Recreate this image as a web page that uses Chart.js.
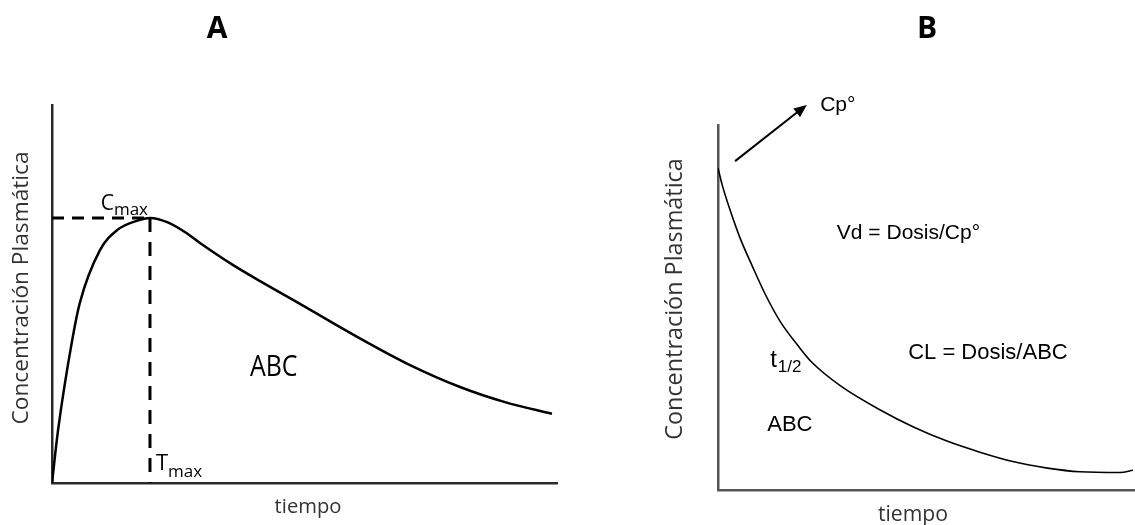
<!DOCTYPE html>
<html><head><meta charset="utf-8">
<script src="https://cdn.jsdelivr.net/npm/chart.js@4/dist/chart.umd.min.js"></script>
<style>
html,body{margin:0;padding:0;background:#fff;}
#wrap{position:relative;width:1135px;height:525px;overflow:hidden;background:#fff;}
#ca{position:absolute;left:0;top:0;}
#cb{position:absolute;left:580px;top:0;}
</style></head><body>
<div id="wrap"><canvas id="ca" width="580" height="525"></canvas><canvas id="cb" width="555" height="525"></canvas></div>
<script>
// ---- data ----
const timeA = [0, 0.12, 0.40, 0.55, 0.95, 1.29, 1.74, 1.94, 2.28, 2.63, 2.93, 3.58, 4.12, 4.91, 6.16, 7.09, 8.08, 8.97, 9.90];
const concA = [0, 14.0, 37.8, 47.6, 61.6, 66.9, 69.6, 70.1, 69.0, 66.4, 63.5, 57.7, 53.4, 47.4, 37.8, 31.2, 25.4, 21.4, 18.3];
const timeB = [0, 0.10, 0.29, 0.53, 0.82, 1.13, 1.49, 1.97, 2.25, 2.93, 3.88, 4.70, 5.49, 6.30, 7.07, 7.90, 8.68, 9.64, 9.95];
const concB = [88.2, 83.6, 76.7, 69.0, 61.4, 53.7, 46.2, 38.8, 35.0, 28.6, 22.0, 17.2, 13.4, 10.3, 7.8, 6.0, 5.0, 4.8, 5.4];
const panelTitles = ['A', 'B'];
const yTitle = 'Concentración Plasmática';
const xTitle = 'tiempo';

const SANS = '"Open Sans", "DejaVu Sans", sans-serif';
const ARIAL = '"Liberation Sans", Arial, sans-serif';

function fitSize(ctx, text, family, weight, target) {
  ctx.font = weight + ' 100px ' + family;
  return 100 * target / ctx.measureText(text).width;
}
function toPts(xs, ys) { return xs.map((x, i) => ({x: x, y: ys[i]})); }

const peakIdx = concA.indexOf(Math.max(...concA));
const peak = {x: timeA[peakIdx], y: concA[peakIdx]};

function baseScales(color) {
  const ax = {
    type: 'linear', min: 0, max: 10,
    grid: {display: false, drawTicks: false},
    border: {display: true, color: color, width: 2.5},
    ticks: {display: false},
    title: {display: false}
  };
  return {
    x: Object.assign({}, ax),
    y: Object.assign({}, ax, {max: 100})
  };
}

// ---- Chart A ----
const annotA = {
  id: 'annotA',
  afterDraw(chart) {
    const ctx = chart.ctx, xs = chart.scales.x, ys = chart.scales.y, ca = chart.chartArea;
    ctx.save();
    ctx.fillStyle = '#000';
    ctx.textBaseline = 'alphabetic';
    ctx.font = 'bold 30px ' + SANS; ctx.textAlign = 'center';
    ctx.fillText(panelTitles[0], 217, 38);
    ctx.fillStyle = '#333';
    let s = fitSize(ctx, yTitle, SANS, 'normal', 273);
    ctx.font = s.toFixed(1) + 'px ' + SANS;
    ctx.save(); ctx.translate(22, 288); ctx.rotate(-Math.PI / 2);
    ctx.textBaseline = 'middle'; ctx.fillText(yTitle, 0, 0); ctx.restore();
    s = fitSize(ctx, xTitle, SANS, 'normal', 67);
    ctx.font = s.toFixed(1) + 'px ' + SANS; ctx.textBaseline = 'middle';
    ctx.fillText(xTitle, 308, 507);
    // Cmax / Tmax
    const px = xs.getPixelForValue(peak.x), py = ys.getPixelForValue(peak.y);
    ctx.fillStyle = '#000'; ctx.textBaseline = 'alphabetic'; ctx.textAlign = 'left';
    ctx.font = '17px ' + SANS;
    const wMax = ctx.measureText('max').width;
    ctx.font = '21px ' + SANS;
    const wC = ctx.measureText('C').width;
    const cx = px - 2 - wMax - wC;
    ctx.fillText('C', cx, py - 8);
    ctx.font = '17px ' + SANS; ctx.fillText('max', cx + wC, py - 3);
    ctx.font = '22px ' + SANS; ctx.fillText('T', px + 6, ca.bottom - 13);
    const wT = ctx.measureText('T').width;
    ctx.font = '17px ' + SANS; ctx.fillText('max', px + 6 + wT, ca.bottom - 6);
    // ABC
    ctx.save();
    ctx.translate(xs.getPixelForValue(3.92), ys.getPixelForValue(28.3));
    ctx.scale(0.86, 1);
    ctx.font = '29px ' + SANS;
    ctx.fillText('ABC', 0, 0);
    ctx.restore();
    ctx.restore();
  }
};

new Chart(document.getElementById('ca'), {
  type: 'scatter',
  data: {
    datasets: [
      {data: toPts(timeA, concA), showLine: true, borderColor: '#000', borderWidth: 2.5,
       pointRadius: 0, cubicInterpolationMode: 'monotone', fill: false},
      {data: [{x: 0, y: peak.y}, peak], showLine: true, borderColor: '#000', borderWidth: 3,
       borderDash: [12, 8], pointRadius: 0},
      {data: [peak, {x: peak.x, y: 0}], showLine: true, borderColor: '#000', borderWidth: 3,
       borderDash: [14, 10], pointRadius: 0}
    ]
  },
  options: {
    responsive: false, animation: false, events: [],
    layout: {padding: {left: 52, right: 23, top: 105, bottom: 42}},
    plugins: {legend: {display: false}, tooltip: {enabled: false}},
    scales: baseScales('#2a2a2a')
  },
  plugins: [annotA]
});

// ---- Chart B ----
const annotB = {
  id: 'annotB',
  afterDraw(chart) {
    const ctx = chart.ctx, xs = chart.scales.x, ys = chart.scales.y;
    const X = v => xs.getPixelForValue(v), Y = v => ys.getPixelForValue(v);
    ctx.save();
    ctx.fillStyle = '#000';
    ctx.font = 'bold 30px ' + SANS; ctx.textAlign = 'center'; ctx.textBaseline = 'alphabetic';
    ctx.fillText(panelTitles[1], 347, 38);
    ctx.fillStyle = '#333';
    let s = fitSize(ctx, yTitle, SANS, 'normal', 282);
    ctx.font = s.toFixed(1) + 'px ' + SANS;
    ctx.save(); ctx.translate(95, 299); ctx.rotate(-Math.PI / 2);
    ctx.textBaseline = 'middle'; ctx.fillText(yTitle, 0, 0); ctx.restore();
    s = fitSize(ctx, xTitle, SANS, 'normal', 70);
    ctx.font = s.toFixed(1) + 'px ' + SANS; ctx.textBaseline = 'middle';
    ctx.fillText(xTitle, 333, 515);
    // arrow to Cp°
    const x1 = X(0.41), y1 = Y(90.1), x2 = X(2.13), y2 = Y(105.5);
    ctx.strokeStyle = '#000'; ctx.lineWidth = 2;
    ctx.beginPath(); ctx.moveTo(x1, y1); ctx.lineTo(x2 - 8, y2 + 6); ctx.stroke();
    const ang = Math.atan2(y2 - y1, x2 - x1);
    ctx.beginPath();
    ctx.moveTo(x2, y2);
    ctx.lineTo(x2 - 14 * Math.cos(ang - 0.4), y2 - 14 * Math.sin(ang - 0.4));
    ctx.lineTo(x2 - 14 * Math.cos(ang + 0.4), y2 - 14 * Math.sin(ang + 0.4));
    ctx.closePath(); ctx.fillStyle = '#000'; ctx.fill();
    // texts
    ctx.textAlign = 'left'; ctx.textBaseline = 'middle'; ctx.fillStyle = '#000';
    ctx.font = '21px ' + ARIAL;
    ctx.fillText('Cp°', X(2.45), Y(105.5));
    ctx.fillText('Vd = Dosis/Cp°', X(2.85), Y(70.4));
    ctx.font = '22px ' + ARIAL;
    ctx.fillText('CL = Dosis/ABC', X(4.56), Y(37.5));
    ctx.fillText('ABC', X(1.18), Y(17.8));
    ctx.font = '24px ' + ARIAL;
    const tx = X(1.25), ty = Y(35.6);
    ctx.fillText('t', tx, ty);
    const wt = ctx.measureText('t').width;
    ctx.font = '17px ' + ARIAL;
    ctx.fillText('1/2', tx + wt + 1, ty + 7);
    ctx.restore();
  }
};

new Chart(document.getElementById('cb'), {
  type: 'scatter',
  data: {
    datasets: [
      {data: toPts(timeB, concB), showLine: true, borderColor: '#000', borderWidth: 1.6,
       pointRadius: 0, cubicInterpolationMode: 'monotone', fill: false}
    ]
  },
  options: {
    responsive: false, animation: false, events: [],
    layout: {padding: {left: 138, right: 0, top: 125, bottom: 35}},
    plugins: {legend: {display: false}, tooltip: {enabled: false}},
    scales: baseScales('#555')
  },
  plugins: [annotB]
});
</script>
</body></html>
